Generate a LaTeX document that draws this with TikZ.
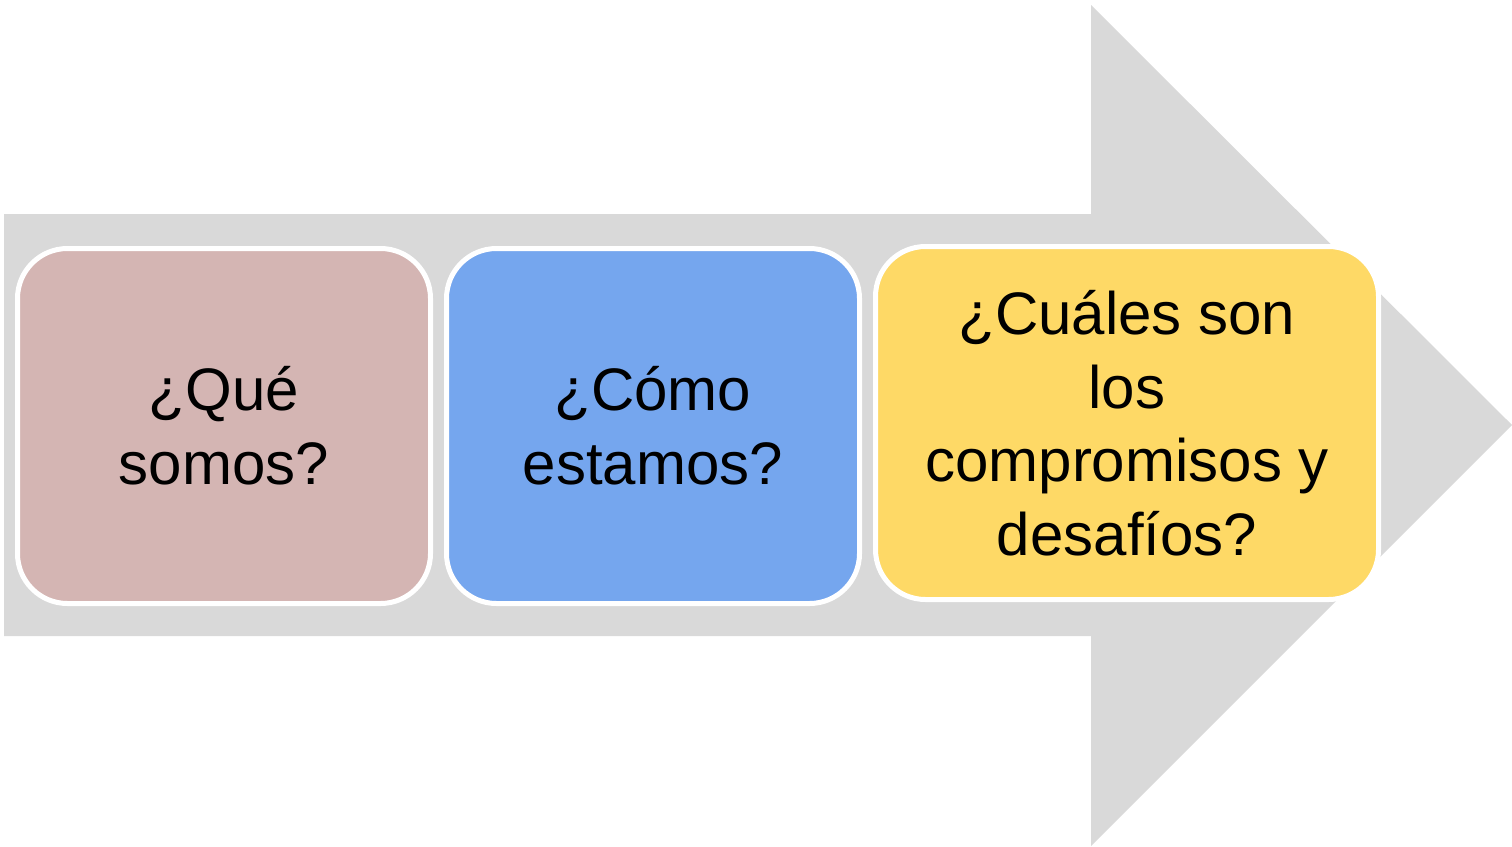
\documentclass[tikz,border=0pt]{standalone}
\usepackage{fontspec}
\setmainfont{Liberation Sans}
\usetikzlibrary{positioning}

\definecolor{arrowgray}{HTML}{D9D9D9}
\definecolor{rosebox}{HTML}{D4B5B3}
\definecolor{bluebox}{HTML}{75A6EE}
\definecolor{yellowbox}{HTML}{FED966}

\begin{document}
\begin{tikzpicture}[x=1pt,y=-1pt,
  question/.style={draw=white,line width=5pt,rounded corners=50pt,
    minimum width=413pt,minimum height=355pt,align=center,
    font=\fontsize{60}{74}\selectfont},
  bigarrow/.style={fill=arrowgray,draw=none}]

  \useasboundingbox (0,0) rectangle (1512,846);

  % background arrow
  \path[bigarrow] (4,214) -- (1091,214) -- (1091,5) -- (1512,425)
    -- (1091,846) -- (1091,636) -- (4,636) -- cycle;

  \node[question,fill=rosebox] (que) at (224,426) {¿Qué\\somos?};
  \node[question,fill=bluebox] (como) [right=11pt of que] {¿Cómo\\estamos?};
  \node[question,fill=yellowbox,minimum width=503pt,minimum height=353pt,
    font=\fontsize{60}{73.5}\selectfont] (cuales) at (1127,423)
    {¿Cuáles son\\los\\compromisos y\\desafíos?};
\end{tikzpicture}
\end{document}
